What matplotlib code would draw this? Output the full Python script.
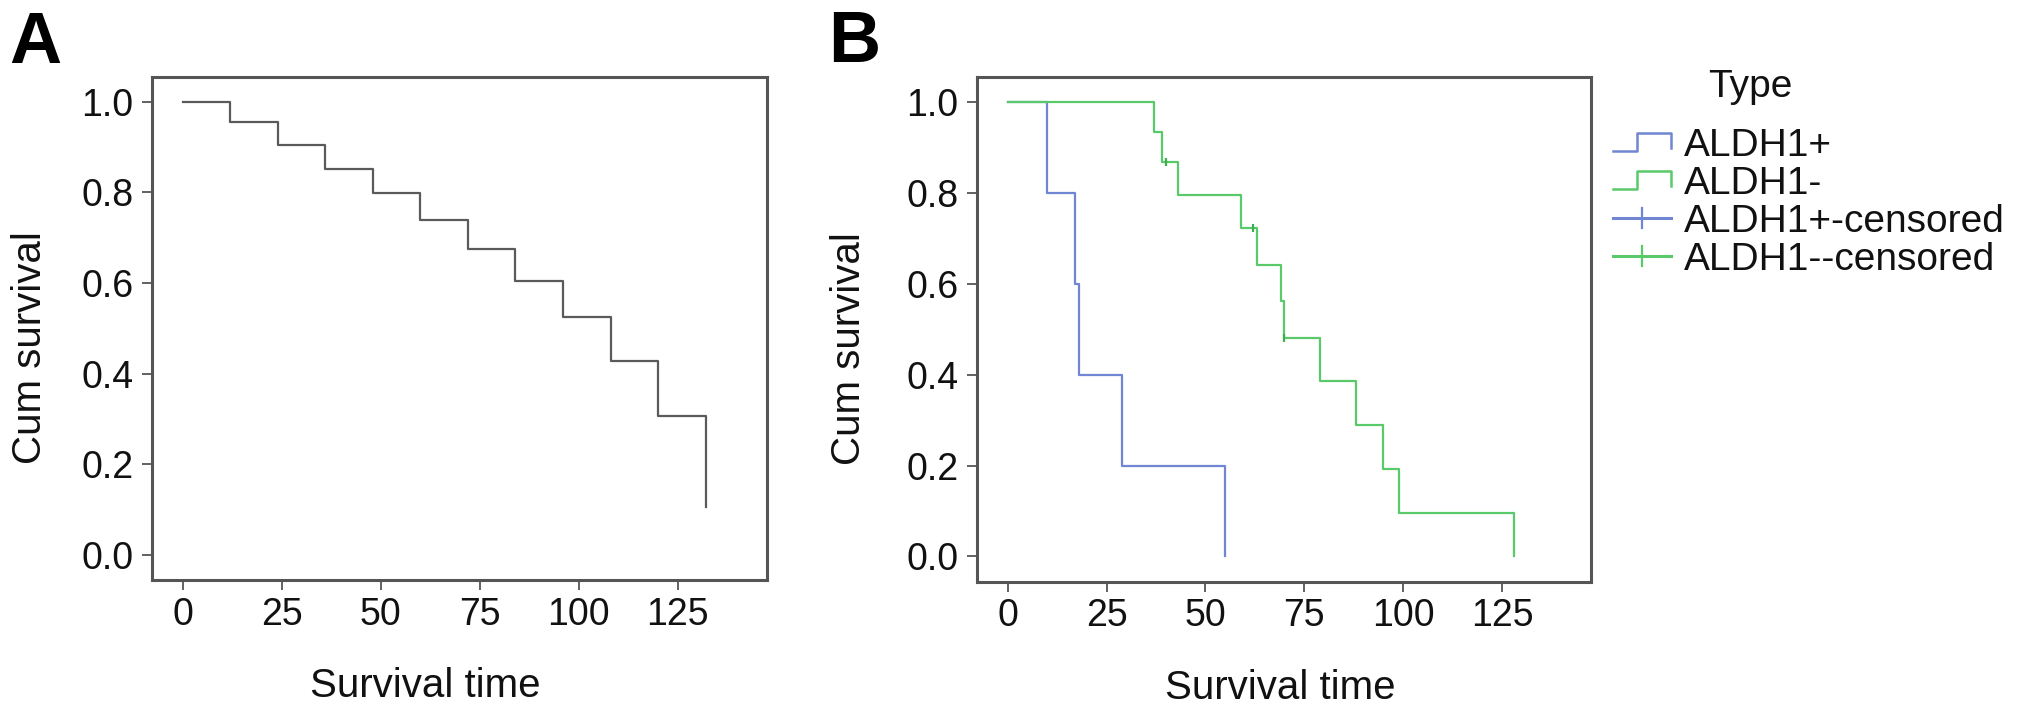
import matplotlib
matplotlib.use("Agg")
import matplotlib.pyplot as plt
from matplotlib.lines import Line2D
from matplotlib.legend_handler import HandlerBase

plt.rcParams['font.family'] = ['Liberation Sans', 'DejaVu Sans']

# ---- data ----
a_times = [0, 12, 24, 36, 48, 60, 72, 84, 96, 108, 120, 132]
a_surv = [1.0, 0.955, 0.905, 0.852, 0.798, 0.738, 0.674, 0.605, 0.524, 0.428, 0.307, 0.107]

pos_times = [0, 10, 17, 18, 29, 55]
pos_surv = [1.0, 0.8, 0.6, 0.4, 0.2, 0.0]

neg_times = [0, 37, 39, 43, 59, 63, 69, 70, 79, 88, 95, 99, 128]
neg_surv = [1.0, 0.933, 0.867, 0.794, 0.722, 0.642, 0.562, 0.481, 0.385, 0.289, 0.193, 0.096, 0.0]
neg_cens_times = [40, 62, 70]
neg_cens_surv = [0.867, 0.722, 0.481]

x_ticks = [0, 25, 50, 75, 100, 125]
y_ticks = [0.0, 0.2, 0.4, 0.6, 0.8, 1.0]
legend_labels = ["ALDH1+", "ALDH1-", "ALDH1+-censored", "ALDH1--censored"]

BLUE = "#7086d2"
GREEN = "#5ac96a"
GRAY = "#5a5a5a"
SPINE = "#555555"

W, H = 2031, 715
fig = plt.figure(figsize=(W / 100, H / 100), dpi=100)

def px_axes(l, t, r, b):
    return [l / W, 1 - b / H, (r - l) / W, (b - t) / H]

axA = fig.add_axes(px_axes(151.7, 76.7, 767, 580))
axB = fig.add_axes(px_axes(976.8, 76.7, 1591, 581.5))

def style(ax, xlab_x):
    ax.set_xlim(-7.8, 147.5)
    ax.set_ylim(-0.055, 1.055)
    ax.set_xticks(x_ticks)
    ax.set_yticks(y_ticks)
    ax.set_xticklabels([str(v) for v in x_ticks])
    ax.set_yticklabels([f"{v:.1f}" for v in y_ticks])
    for s in ax.spines.values():
        s.set_color(SPINE)
        s.set_linewidth(2.2)
    ax.tick_params(axis='both', direction='out', length=7, width=1.3, color=SPINE,
                   labelsize=27, labelcolor="#111111")
    ax.tick_params(axis='y', pad=6)
    ax.tick_params(axis='x', pad=5)
    ax.set_xlabel("Survival time", fontsize=29, color="#111111")
    ax.set_ylabel("Cum survival", fontsize=29, color="#111111")
    ax.xaxis.label.set_verticalalignment('center')
    ax.yaxis.label.set_verticalalignment('center')
    ax.xaxis.set_label_coords(xlab_x, -0.21)

style(axA, 0.444)
style(axB, 0.494)
axA.yaxis.set_label_coords(-0.198, 0.462)
axB.yaxis.set_label_coords(-0.208, 0.462)

axA.step(a_times, a_surv, where='post', color=GRAY, lw=1.6)

axB.step(pos_times, pos_surv, where='post', color=BLUE, lw=1.6)
axB.step(neg_times, neg_surv, where='post', color=GREEN, lw=1.6)
axB.plot(neg_cens_times, neg_cens_surv, linestyle='none', marker='|', markersize=6,
         markeredgewidth=1.6, color="#3fae50")

# ---- legend ----
class StepHandler(HandlerBase):
    def create_artists(self, legend, orig_handle, xdescent, ydescent, width, height, fontsize, trans):
        lo = -ydescent + height * 0.05
        hi = -ydescent + height * 0.95
        xs = [-xdescent, -xdescent + 0.42 * width, -xdescent + 0.42 * width,
              -xdescent + width, -xdescent + width]
        ys = [lo, lo, hi, hi, lo + 0.15 * height]
        ln = Line2D(xs, ys, color=orig_handle.get_color(), lw=1.8)
        ln.set_transform(trans)
        return [ln]

class CensHandler(HandlerBase):
    def create_artists(self, legend, orig_handle, xdescent, ydescent, width, height, fontsize, trans):
        mid = -ydescent + height / 2
        ln = Line2D([-xdescent, -xdescent + width], [mid, mid], color=orig_handle.get_color(), lw=2.2)
        tk = Line2D([-xdescent + width / 2] * 2, [-ydescent, -ydescent + height],
                    color=orig_handle.get_color(), lw=1.6)
        ln.set_transform(trans)
        tk.set_transform(trans)
        return [ln, tk]

h_pos = Line2D([], [], color=BLUE)
h_neg = Line2D([], [], color=GREEN)
h_pos_c = Line2D([], [], color=BLUE, marker='|')
h_neg_c = Line2D([], [], color=GREEN, marker='|')

leg = fig.legend([h_pos, h_neg, h_pos_c, h_neg_c], legend_labels,
                 handler_map={h_pos: StepHandler(), h_neg: StepHandler(),
                              h_pos_c: CensHandler(), h_neg_c: CensHandler()},
                 loc='upper left', bbox_to_anchor=(1613 / W, 1 - 128 / H),
                 frameon=False, fontsize=28, handlelength=1.5, handleheight=0.4,
                 handletextpad=0.33, labelspacing=0.05, borderpad=0, borderaxespad=0)
for t in leg.get_texts():
    t.set_color("#111111")

fig.text(1750 / W, 1 - 87 / H, "Type", ha='center', va='center', fontsize=28, color="#111111")

fig.text(9 / W, 1 - 63 / H, "A", ha='left', va='baseline', fontsize=52, fontweight='bold')
fig.text(828 / W, 1 - 62 / H, "B", ha='left', va='baseline', fontsize=52, fontweight='bold')

fig.savefig("out.png", dpi=100)
